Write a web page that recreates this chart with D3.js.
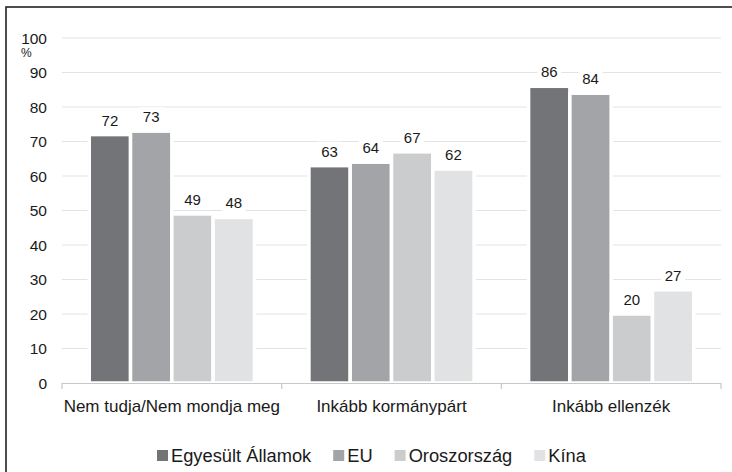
<!DOCTYPE html>
<html>
<head>
<meta charset="utf-8">
<script src="https://cdn.jsdelivr.net/npm/d3@7"></script>
<style>
  body { margin: 0; background: #fff; }
  text { font-family: "Liberation Sans", Arial, sans-serif; fill: #1a1a1a; }
</style>
</head>
<body>
<svg id="canvas" width="732" height="472"></svg>
<script>
// data
let categories = ['Nem tudja/Nem mondja meg', 'Inkább kormánypárt', 'Inkább ellenzék']
let seriesNames = ['Egyesült Államok', 'EU', 'Oroszország', 'Kína']
let usa = [72, 63, 86]
let eu = [73, 64, 84]
let russia = [49, 67, 20]
let china = [48, 62, 27]
let yTicks = [0, 10, 20, 30, 40, 50, 60, 70, 80, 90, 100]

let colors = ['#737478', '#a3a4a7', '#cbcccd', '#e1e2e4']
let series = [usa, eu, russia, china]

let svg = d3.select('#canvas')

// outer frame (cut off on right / bottom)
svg.append('rect')
    .attr('x', 6).attr('y', 7)
    .attr('width', 740).attr('height', 480)
    .attr('fill', 'none')
    .attr('stroke', '#222')
    .attr('stroke-width', 1.6)

let plotLeft = 62, plotRight = 721, plotTop = 38, plotBottom = 383

let x = d3.scaleBand().domain(categories).range([plotLeft, plotRight])
let xInner = d3.scaleBand().domain(d3.range(4))
    .range([0, x.bandwidth()]).paddingOuter(0.66).paddingInner(0.0)
let y = d3.scaleLinear().domain([0, 100]).range([plotBottom, plotTop])

// gridlines
svg.append('g').selectAll('line')
    .data(yTicks.filter(d => d > 0))
    .enter().append('line')
    .attr('x1', plotLeft).attr('x2', plotRight)
    .attr('y1', d => y(d)).attr('y2', d => y(d))
    .attr('stroke', '#e3e3e3').attr('stroke-width', 1)

// y labels
svg.append('g').selectAll('text')
    .data(yTicks)
    .enter().append('text')
    .attr('x', 47).attr('y', d => y(d) + 5.5)
    .attr('text-anchor', 'end')
    .style('font-size', '15.5px')
    .text(d => d)

svg.append('text').attr('x', 21).attr('y', 57)
    .style('font-size', '12px').text('%')

// bars
let rows = []
categories.forEach((c, i) => {
    series.forEach((s, j) => rows.push({ cat: c, idx: j, value: s[i] }))
})

svg.append('g').selectAll('rect')
    .data(rows)
    .enter().append('rect')
    .attr('x', d => x(d.cat) + xInner(d.idx))
    .attr('y', d => y(d.value))
    .attr('width', xInner.bandwidth())
    .attr('height', d => y(0) - y(d.value))
    .attr('fill', d => colors[d.idx])
    .attr('stroke', '#fff')
    .attr('stroke-width', 3.5)

// value labels with white background
let labels = svg.append('g').selectAll('g')
    .data(rows)
    .enter().append('g')
    .attr('transform', d => `translate(${x(d.cat) + xInner(d.idx) + xInner.bandwidth() / 2},${y(d.value) - 9})`)

labels.append('rect')
    .attr('x', -12).attr('y', -15).attr('width', 24).attr('height', 18)
    .attr('fill', '#fff')

labels.append('text')
    .attr('text-anchor', 'middle')
    .style('font-size', '15px')
    .text(d => d.value)

// x axis
svg.append('line')
    .attr('x1', plotLeft).attr('x2', plotRight)
    .attr('y1', plotBottom + 0.5).attr('y2', plotBottom + 0.5)
    .attr('stroke', '#c8c8c8').attr('stroke-width', 1.2)

svg.append('g').selectAll('line')
    .data(d3.range(categories.length + 1))
    .enter().append('line')
    .attr('x1', i => plotLeft + i * x.step()).attr('x2', i => plotLeft + i * x.step())
    .attr('y1', plotBottom).attr('y2', plotBottom + 6)
    .attr('stroke', '#c8c8c8').attr('stroke-width', 1.2)

svg.append('g').selectAll('text')
    .data(categories)
    .enter().append('text')
    .attr('x', d => x(d) + x.bandwidth() / 2)
    .attr('y', 412)
    .attr('text-anchor', 'middle')
    .style('font-size', '17px')
    .text(d => d)

// legend
let legend = svg.append('g')
let lx = 157
seriesNames.forEach((name, i) => {
    legend.append('rect')
        .attr('x', lx).attr('y', 450)
        .attr('width', 11).attr('height', 11)
        .attr('fill', colors[i])
    let t = legend.append('text')
        .attr('x', lx + 14).attr('y', 462)
        .style('font-size', '18.3px')
        .text(name)
    lx += 14 + t.node().getComputedTextLength() + 22
})
</script>
</body>
</html>
